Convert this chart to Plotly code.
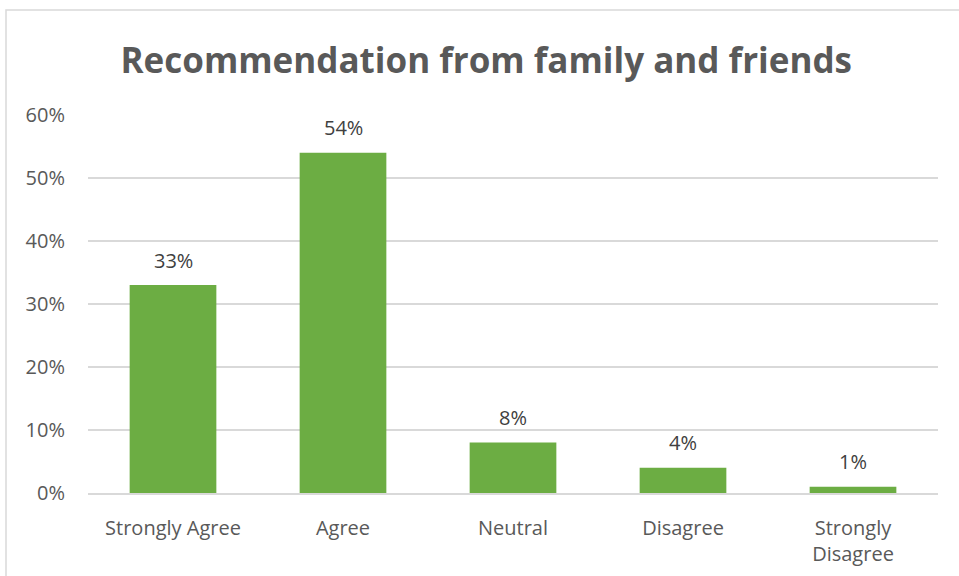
import plotly.graph_objects as go

categories = ["Strongly Agree", "Agree", "Neutral", "Disagree", "Strongly<br>Disagree"]
shares = [0.33, 0.54, 0.08, 0.04, 0.01]
y_ticks = [0, 0.1, 0.2, 0.3, 0.4, 0.5, 0.6]
y_tick_labels = ["0%", "10%", "20%", "30%", "40%", "50%", "60%"]

TEXT = "#595959"
GRID = "#d9d9d9"
FONT = "Open Sans"
LABEL_SIZE = 20

fig = go.Figure(
    go.Bar(
        x=categories,
        y=shares,
        marker=dict(color="#6cad43", line=dict(width=0)),
        hoverinfo="x+y",
    )
)

# value labels floated a little above each bar
for cat, val in zip(categories, shares):
    fig.add_annotation(
        x=cat,
        y=val,
        text=f"{val:.0%}",
        showarrow=False,
        yanchor="middle",
        yshift=25,
        font=dict(family=FONT, size=LABEL_SIZE, color="#404040"),
    )

fig.update_layout(
    width=959,
    height=576,
    margin=dict(l=88, r=21, t=115, b=83, autoexpand=False),
    paper_bgcolor="white",
    plot_bgcolor="white",
    bargap=0.49,
    showlegend=False,
    title=dict(
        text="<b>Recommendation from family and friends</b>",
        x=0.507,
        xanchor="center",
        y=0.895,
        yanchor="middle",
        font=dict(family=FONT, size=35, color=TEXT),
    ),
    font=dict(family=FONT, color=TEXT),
    shapes=[
        dict(
            type="rect",
            xref="paper",
            yref="paper",
            x0=-82 / 850,
            x1=1 + 40 / 850,
            y0=-120 / 378,
            y1=1 + 105 / 378,
            line=dict(color=GRID, width=1.5),
            fillcolor="rgba(0,0,0,0)",
            layer="below",
        )
    ],
)

fig.update_xaxes(
    automargin=False,
    showline=True,
    linecolor=GRID,
    linewidth=1.5,
    ticks="",
    ticklabelstandoff=16,
    tickfont=dict(family=FONT, size=LABEL_SIZE, color=TEXT),
    showgrid=False,
)
fig.update_yaxes(
    automargin=False,
    range=[0, 0.6],
    tickvals=y_ticks,
    ticktext=y_tick_labels,
    showgrid=True,
    gridcolor=GRID,
    gridwidth=1.5,
    zeroline=False,
    showline=False,
    ticks="",
    ticklabelstandoff=22,
    tickfont=dict(family=FONT, size=LABEL_SIZE, color=TEXT),
)

fig.write_html("out.html")
